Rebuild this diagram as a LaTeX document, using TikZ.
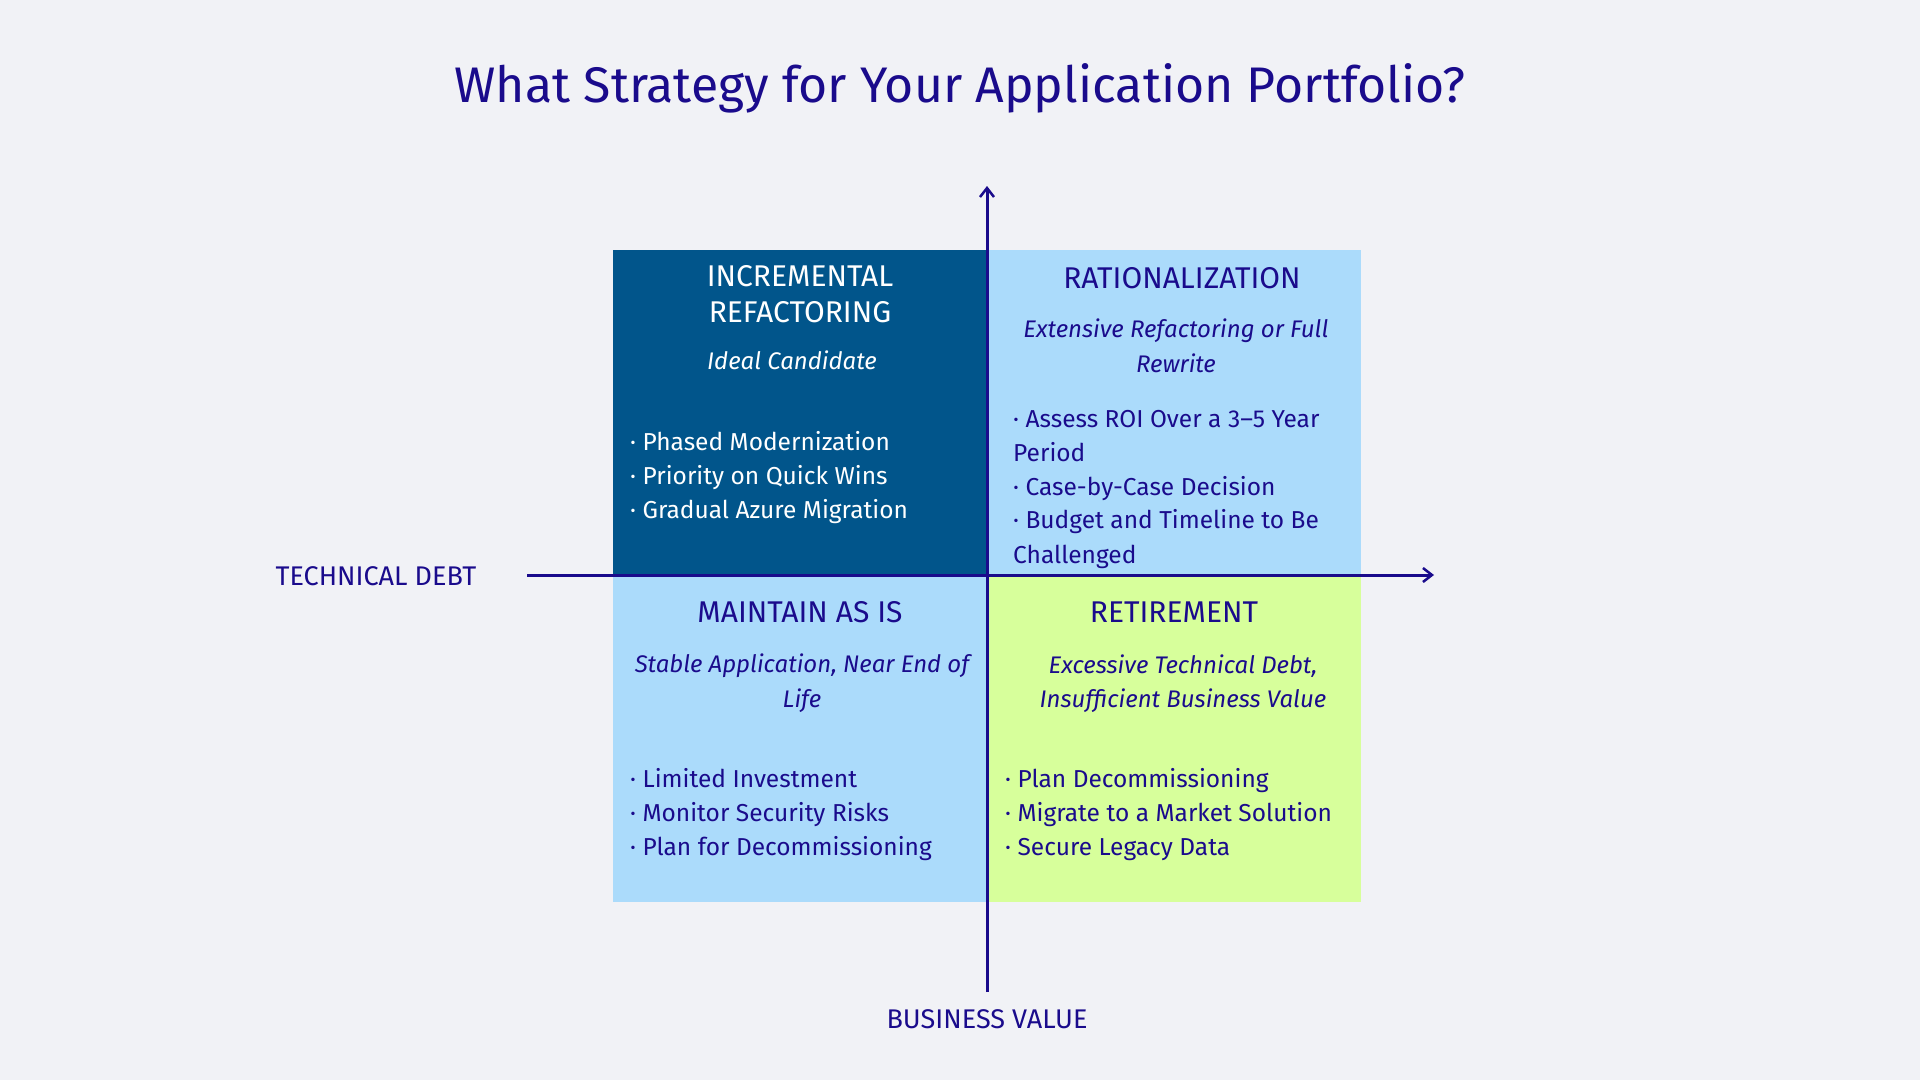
\documentclass[tikz,border=0pt]{standalone}
\usepackage{fontspec}
\setmainfont{Fira Sans}
\usetikzlibrary{arrows.meta}
\definecolor{bgc}{HTML}{F1F2F6}
\definecolor{ink}{HTML}{1A0B8C}
\definecolor{darkq}{HTML}{01558B}
\definecolor{lightq}{HTML}{ABDBFB}
\definecolor{greenq}{HTML}{D7FF9B}
\newcommand{\fsz}[1]{\fontsize{#1}{#1}\selectfont}
\tikzset{
  quad/.style={draw=none, minimum width=374pt, minimum height=326pt, inner sep=0pt, outer sep=0pt},
  head/.style={anchor=base, inner sep=0pt, font=\fsz{30}},
  sub/.style={anchor=base, inner sep=0pt, font=\fsz{24}\itshape},
  item/.style={anchor=base west, inner sep=0pt, font=\fsz{24.5}},
  axis/.style={draw=ink, line width=3pt, -{Straight Barb[length=9pt,width=14pt,line width=2.5pt]}},
  axlabel/.style={anchor=base, inner sep=0pt, font=\fsz{27}, text=ink}
}
\begin{document}
\begin{tikzpicture}[x=1pt,y=-1pt]
\fill[bgc] (0,0) rectangle (1920,1080);
\useasboundingbox (0,0) rectangle (1920,1080);
% quadrants
\node[quad, fill=darkq, anchor=north west] (q1) at (613,250) {};
\node[quad, fill=lightq, anchor=north west] (q2) at (987,250) {};
\node[quad, fill=lightq, anchor=north west] (q3) at (613,576) {};
\node[quad, fill=greenq, anchor=north west] (q4) at (987,576) {};
% title
\node[anchor=base, inner sep=0pt, font=\fsz{50}, text=ink] (title) at (960,102) {What Strategy for Your Application Portfolio?};
% axes
\coordinate (vbot) at (987,992);
\coordinate (vtop) at (987,186);
\coordinate (hl) at (527,575);
\coordinate (hr) at (1434,575);
\draw[axis] (hl) -- (hr);
\draw[axis] (vbot) -- (vtop);
\node[axlabel] (tdebt) at (376,585) {TECHNICAL DEBT};
\node[axlabel] (bval) at (987,1028) {BUSINESS VALUE};
% Q1
\node[head, text=white] (h1a) at (800,286) {INCREMENTAL};
\node[head, text=white] (h1b) at (800,322) {REFACTORING};
\node[sub, text=white] (s1) at (792,369) {Ideal Candidate};
\node[item, text=white] (i1a) at (630,450) {· Phased Modernization};
\node[item, text=white] (i1b) at (630,484) {· Priority on Quick Wins};
\node[item, text=white] (i1c) at (630,518) {· Gradual Azure Migration};
% Q2
\node[head, text=ink] (h2) at (1182,288) {RATIONALIZATION};
\node[sub, text=ink] (s2a) at (1176,337) {Extensive Refactoring or Full};
\node[sub, text=ink] (s2b) at (1176,372) {Rewrite};
\node[item, text=ink] (i2a) at (1013,427) {· Assess ROI Over a 3–5 Year};
\node[item, text=ink] (i2b) at (1013,461) {Period};
\node[item, text=ink] (i2c) at (1013,495) {· Case-by-Case Decision};
\node[item, text=ink] (i2d) at (1013,528) {· Budget and Timeline to Be};
\node[item, text=ink] (i2e) at (1013,563) {Challenged};
% Q3
\node[head, text=ink] (h3) at (800,622) {MAINTAIN AS IS};
\node[sub, text=ink] (s3a) at (802,672) {Stable Application, Near End of};
\node[sub, text=ink] (s3b) at (802,707) {Life};
\node[item, text=ink] (i3a) at (630,787) {· Limited Investment};
\node[item, text=ink] (i3b) at (630,821) {· Monitor Security Risks};
\node[item, text=ink] (i3c) at (630,855) {· Plan for Decommissioning};
% Q4
\node[head, text=ink] (h4) at (1174,622) {RETIREMENT};
\node[sub, text=ink] (s4a) at (1183,673) {Excessive Technical Debt,};
\node[sub, text=ink] (s4b) at (1183,707) {Insufficient Business Value};
\node[item, text=ink] (i4a) at (1005,787) {· Plan Decommissioning};
\node[item, text=ink] (i4b) at (1005,821) {· Migrate to a Market Solution};
\node[item, text=ink] (i4c) at (1005,855) {· Secure Legacy Data};
\end{tikzpicture}
\end{document}
